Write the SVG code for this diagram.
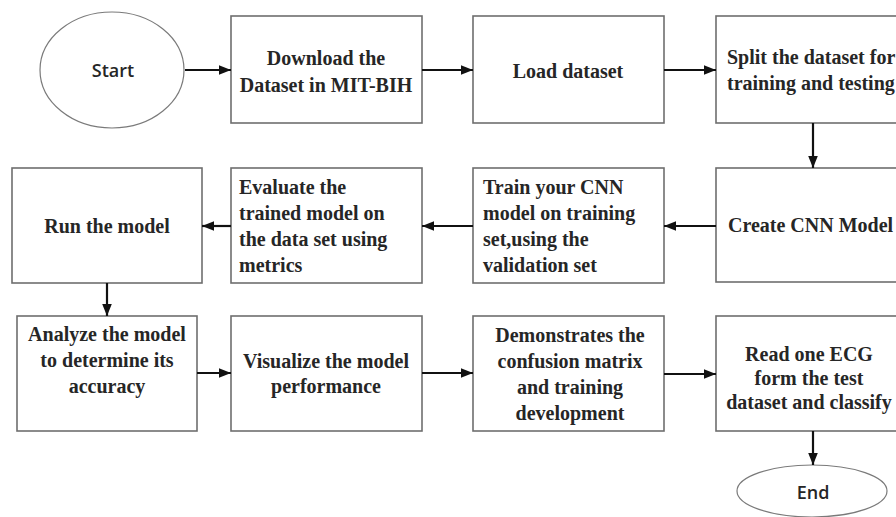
<svg xmlns="http://www.w3.org/2000/svg" width="896" height="517" viewBox="0 0 896 517">
  <style>
    .box { fill: #ffffff; stroke: #6e6e6e; stroke-width: 1.6; }
    .oval { fill: #ffffff; stroke: #7a7a7a; stroke-width: 1.2; }
    .t { font-family: "Liberation Serif", "Times New Roman", serif; font-weight: bold; font-size: 20px; fill: #262626; }
    .c { text-anchor: middle; }
    .s { font-family: "Open Sans", "Noto Sans", sans-serif; font-weight: 600; font-size: 18px; fill: #262626; text-anchor: middle; }
    .conn { stroke: #111111; stroke-width: 2.2; fill: none; marker-end: url(#ah); }
  </style>
  <defs>
    <marker id="ah" viewBox="0 0 10 8" refX="10" refY="4" markerWidth="12" markerHeight="10" markerUnits="userSpaceOnUse" orient="auto">
      <path d="M0,0 L10,4 L0,8 z" fill="#111111"/>
    </marker>
  </defs>
  <rect width="896" height="517" fill="#ffffff"/>

  <g id="start">
    <ellipse class="oval" cx="112" cy="70" rx="72" ry="58"/>
    <text class="s" x="113" y="77">Start</text>
  </g>
  <g id="download">
    <rect class="box" x="231" y="16" width="191" height="107"/>
    <text class="t c" x="326" y="65">Download the</text>
    <text class="t c" x="326" y="92">Dataset in MIT-BIH</text>
  </g>
  <g id="load">
    <rect class="box" x="473" y="16" width="191" height="107"/>
    <text class="t c" x="568" y="78">Load dataset</text>
  </g>
  <g id="split">
    <rect class="box" x="716" y="16" width="191" height="107"/>
    <text class="t" x="727" y="64">Split the dataset for</text>
    <text class="t" x="727" y="90">training and testing</text>
  </g>
  <g id="create">
    <rect class="box" x="716" y="168" width="191" height="114"/>
    <text class="t" x="728" y="232">Create CNN Model</text>
  </g>
  <g id="train">
    <rect class="box" x="473" y="168" width="191" height="115"/>
    <text class="t" x="483" y="194">Train your CNN</text>
    <text class="t" x="483" y="220">model on training</text>
    <text class="t" x="483" y="246">set,using the</text>
    <text class="t" x="483" y="272">validation set</text>
  </g>
  <g id="evaluate">
    <rect class="box" x="231" y="168" width="191" height="115"/>
    <text class="t" x="239" y="194">Evaluate the</text>
    <text class="t" x="239" y="220">trained model on</text>
    <text class="t" x="239" y="246">the data set using</text>
    <text class="t" x="239" y="272">metrics</text>
  </g>
  <g id="run">
    <rect class="box" x="12" y="168" width="190" height="115"/>
    <text class="t c" x="107" y="233">Run the model</text>
  </g>
  <g id="analyze">
    <rect class="box" x="17" y="316" width="180" height="115"/>
    <text class="t c" x="107" y="341">Analyze the model</text>
    <text class="t c" x="107" y="367">to determine its</text>
    <text class="t c" x="107" y="393">accuracy</text>
  </g>
  <g id="visualize">
    <rect class="box" x="231" y="316" width="191" height="115"/>
    <text class="t c" x="326" y="368">Visualize the model</text>
    <text class="t c" x="326" y="393">performance</text>
  </g>
  <g id="demonstrates">
    <rect class="box" x="473" y="316" width="191" height="115"/>
    <text class="t c" x="570" y="342">Demonstrates the</text>
    <text class="t c" x="570" y="368">confusion matrix</text>
    <text class="t c" x="570" y="394">and training</text>
    <text class="t c" x="570" y="420">development</text>
  </g>
  <g id="read">
    <rect class="box" x="716" y="316" width="191" height="115"/>
    <text class="t c" x="809" y="361">Read one ECG</text>
    <text class="t c" x="809" y="385">form the test</text>
    <text class="t c" x="809" y="409">dataset and classify</text>
  </g>
  <g id="end">
    <ellipse class="oval" cx="812" cy="491" rx="75" ry="26"/>
    <text class="s" x="813" y="499">End</text>
  </g>

  <g id="connectors">
    <line class="conn" x1="185" y1="70" x2="231" y2="70"/>
    <line class="conn" x1="422" y1="70" x2="473" y2="70"/>
    <line class="conn" x1="664" y1="70" x2="716" y2="70"/>
    <line class="conn" x1="813" y1="123" x2="813" y2="168"/>
    <line class="conn" x1="716" y1="226" x2="664" y2="226"/>
    <line class="conn" x1="473" y1="226" x2="422" y2="226"/>
    <line class="conn" x1="231" y1="226" x2="202" y2="226"/>
    <line class="conn" x1="107" y1="283" x2="107" y2="316"/>
    <line class="conn" x1="197" y1="373" x2="231" y2="373"/>
    <line class="conn" x1="422" y1="373" x2="473" y2="373"/>
    <line class="conn" x1="664" y1="374" x2="716" y2="374"/>
    <line class="conn" x1="813" y1="431" x2="813" y2="465"/>
  </g>
</svg>
